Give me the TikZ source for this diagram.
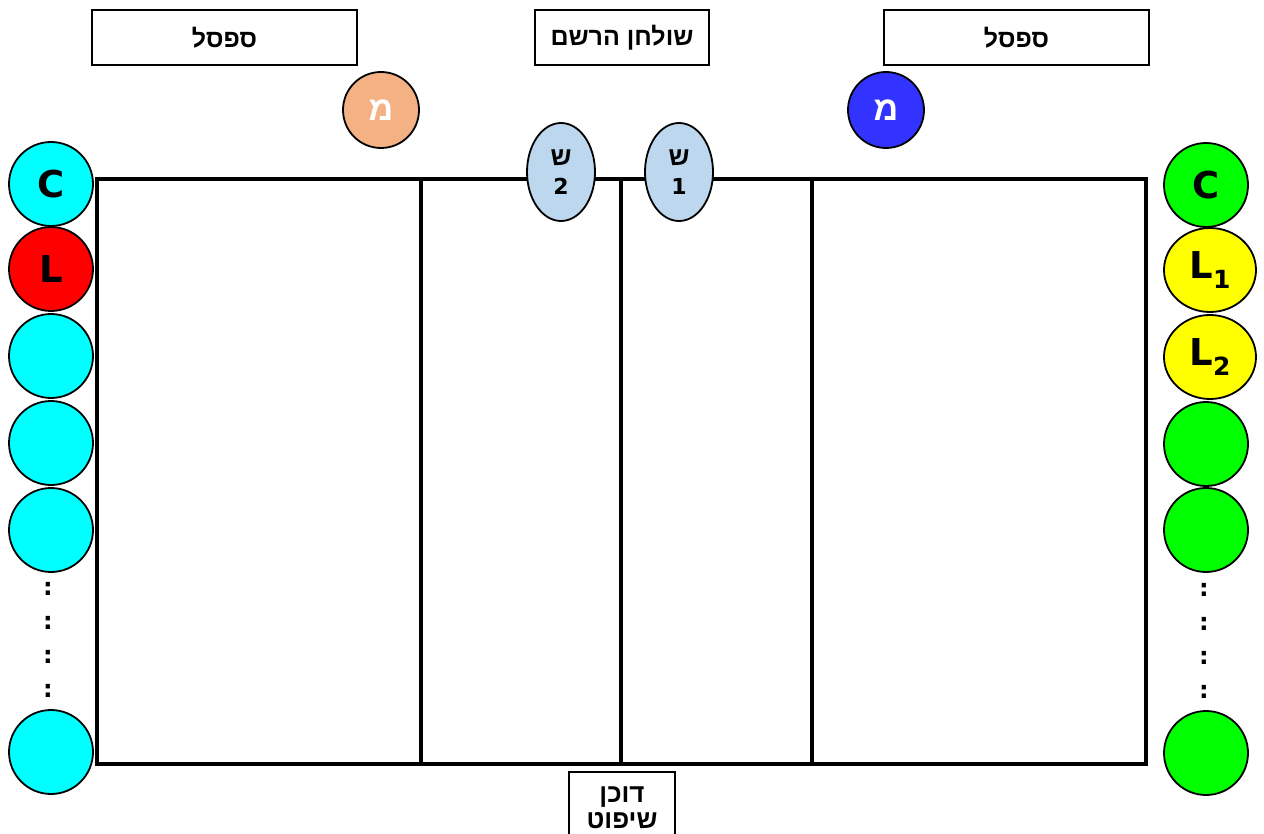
\documentclass[tikz,border=0pt]{standalone}
\usepackage{fontspec}
\setmainfont{DejaVu Sans}
\newfontfamily\heb[Script=Hebrew]{Liberation Sans}
\TeXXeTstate=1
\usetikzlibrary{shapes.geometric}
\definecolor{cyanc}{HTML}{00FFFF}
\definecolor{redc}{HTML}{FF0000}
\definecolor{greenc}{HTML}{00FF00}
\definecolor{yellowc}{HTML}{FFFF00}
\definecolor{orangec}{HTML}{F4B183}
\definecolor{bluec}{HTML}{3333FF}
\definecolor{lightb}{HTML}{BDD7EE}
\newcommand{\hb}[1]{{\heb\bfseries\beginR #1\endR}}
\newcommand{\Lsub}[1]{L\raisebox{-0.28em}{\fontsize{25}{25}\selectfont #1}}
\begin{document}
\begin{tikzpicture}[x=1pt,y=-1pt,
  labelbox/.style={draw, line width=1.6pt, inner sep=0pt, font=\fontsize{25}{28}\selectfont},
  player/.style={circle, draw, line width=1.8pt, minimum size=84pt, inner sep=0pt, font=\fontsize{37}{37}\selectfont\bfseries},
  playerE/.style={ellipse, draw, line width=1.8pt, minimum width=92pt, minimum height=84pt, inner sep=0pt, font=\fontsize{37}{37}\selectfont\bfseries},
  coach/.style={circle, draw, line width=1.8pt, minimum size=76pt, inner sep=0pt, text=white, font=\fontsize{34}{34}\selectfont},
  ref/.style={ellipse, draw, line width=1.8pt, fill=lightb, minimum width=68pt, minimum height=98pt, inner sep=0pt, align=center, font=\fontsize{22}{29}\selectfont\bfseries},
  dots/.style={inner sep=0pt, font=\fontsize{24}{24}\selectfont\bfseries},
  courtline/.style={line width=3.5pt}
]
\useasboundingbox (0,0) rectangle (1264,834);
% court
\coordinate (c1) at (97,179);
\coordinate (c2) at (1146,764);
\draw[courtline] (c1) rectangle (c2);
\coordinate (v1t) at (421,179); \coordinate (v1b) at (421,764);
\coordinate (v2t) at (621,179); \coordinate (v2b) at (621,764);
\coordinate (v3t) at (812,179); \coordinate (v3b) at (812,764);
\draw[courtline] (v1t) -- (v1b);
\draw[courtline] (v2t) -- (v2b);
\draw[courtline] (v3t) -- (v3b);
% top boxes
\node[labelbox, minimum width=265pt, minimum height=55pt] (benchL) at (224.5,37.5) {\hb{ספסל}};
\node[labelbox, minimum width=174pt, minimum height=55pt] (table) at (622,37.5) {\hb{שולחן הרשם}};
\node[labelbox, minimum width=265pt, minimum height=55pt] (benchR) at (1016.5,37.5) {\hb{ספסל}};
% bottom box
\node[labelbox, minimum width=106pt, minimum height=72pt, anchor=north, align=center, font=\fontsize{26}{26}\selectfont] (stand) at (622,771) {\hb{דוכן}\\\hb{שיפוט}};
% coaches
\node[coach, fill=orangec] (coachL) at (381,110) {\hb{מ}};
\node[coach, fill=bluec] (coachR) at (886,110) {\hb{מ}};
% referees
\node[ref] (ref2) at (561,172) {{\fontsize{26}{29}\selectfont\hb{ש}}\\2};
\node[ref] (ref1) at (679,172) {{\fontsize{26}{29}\selectfont\hb{ש}}\\1};
% left team
\node[player, fill=cyanc] (lC) at (51,184) {C};
\node[player, fill=redc] (lL) at (51,269) {L};
\node[player, fill=cyanc] (l3) at (51,356) {};
\node[player, fill=cyanc] (l4) at (51,443) {};
\node[player, fill=cyanc] (l5) at (51,530) {};
\node[player, fill=cyanc] (l6) at (51,752) {};
\node[dots] (ld1) at (48,589) {:};
\node[dots] (ld2) at (48,623) {:};
\node[dots] (ld3) at (48,657) {:};
\node[dots] (ld4) at (48,691) {:};
% right team
\node[player, fill=greenc] (rC) at (1206,185) {C};
\node[playerE, fill=yellowc] (rL1) at (1210,270) {\Lsub{1}};
\node[playerE, fill=yellowc] (rL2) at (1210,357) {\Lsub{2}};
\node[player, fill=greenc] (r4) at (1206,444) {};
\node[player, fill=greenc] (r5) at (1206,530) {};
\node[player, fill=greenc] (r6) at (1206,753) {};
\node[dots] (rd1) at (1204,590) {:};
\node[dots] (rd2) at (1204,624) {:};
\node[dots] (rd3) at (1204,658) {:};
\node[dots] (rd4) at (1204,692) {:};
\end{tikzpicture}
\end{document}
